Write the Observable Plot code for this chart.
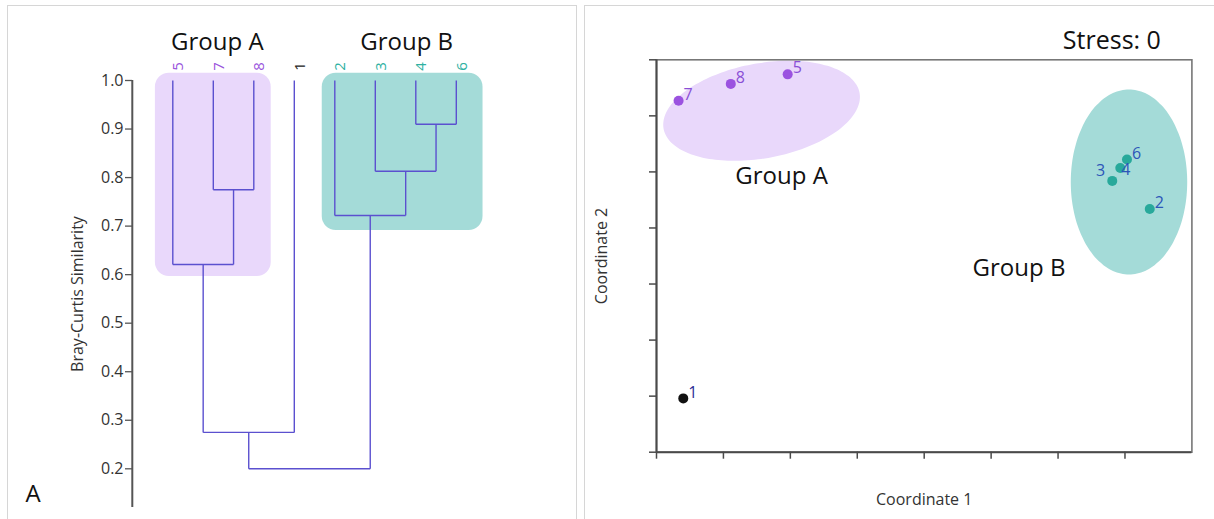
<!DOCTYPE html>
<html>
<head>
<meta charset="utf-8">
<script src="https://cdn.jsdelivr.net/npm/d3@7"></script>
<script src="https://cdn.jsdelivr.net/npm/@observablehq/plot@0.6"></script>
<style>
  html, body { margin: 0; background: #fff; overflow: hidden; }
  #page { position: relative; width: 1214px; height: 519px; overflow: hidden; font-family: "Open Sans", sans-serif; }
  .panel { position: absolute; border: 1.5px solid #d6d6d6; box-sizing: border-box; }
  #panelLeft { left: 7px; top: 5px; width: 570px; height: 560px; }
  #panelRight { left: 584px; top: 5px; width: 700px; height: 560px; }
  .chart { position: absolute; top: 0; }
</style>
</head>
<body>
<div id="page">
  <div class="panel" id="panelLeft"></div>
  <div class="panel" id="panelRight"></div>
  <div class="chart" id="dendro" style="left:0"></div>
  <div class="chart" id="nmds" style="left:580px"></div>
</div>
<script>
// ---- Cluster analysis (UPGMA, Bray-Curtis similarity) ----
// leaves in the order the dendrogram draws them
const leafLabels = ["5", "7", "8", "1", "2", "3", "4", "6"];
const leafGroup  = ["A", "A", "A", "", "B", "B", "B", "B"];

// agglomeration steps: the two nodes joined and the similarity of the join
// (joined clusters are referred to as m1, m2, ... in order of creation)
const joinLeft  = ["4", "7", "3", "2", "5", "m5", "m6"];
const joinRight = ["6", "8", "m1", "m3", "m2", "1", "m4"];
const joinSim   = [0.91, 0.775, 0.813, 0.722, 0.621, 0.275, 0.20];

const simTicks = [0.2, 0.3, 0.4, 0.5, 0.6, 0.7, 0.8, 0.9, 1.0];

// shaded group boxes, in leaf-index units and similarity
const groupNames    = ["Group A", "Group B"];
const groupBoxFrom  = [-0.43, 3.69];
const groupBoxTo    = [2.43, 7.66];
const groupBoxLow   = [0.596, 0.691];
const groupBoxHigh  = [1.015, 1.015];

// ---- Non-metric MDS ordination ----
const sampleIds   = ["1", "2", "3", "4", "5", "6", "7", "8"];
const coord1      = [0.40, 7.37, 6.81, 6.93, 1.96, 7.03, 0.33, 1.11];
const coord2      = [0.96, 4.34, 4.84, 5.07, 6.74, 5.22, 6.27, 6.57];
const sampleGroup = ["", "B", "B", "B", "A", "B", "A", "A"];
const stress = 0;

// group ellipses: centre, semi-axes (axis units) and tilt (degrees)
const ellipseGroup = ["A", "B"];
const ellipseCx    = [1.57, 7.06];
const ellipseCy    = [6.09, 4.82];
const ellipseRx    = [1.50, 0.87];
const ellipseRy    = [0.84, 1.65];
const ellipseTilt  = [14, 0];

const coordTicks1 = [0, 1, 2, 3, 4, 5, 6, 7];
const coordTicks2 = [0, 1, 2, 3, 4, 5, 6, 7];

// ---- colours ----
const boxFill   = {A: "#e9d8fb", B: "#a4dbd8"};
const leafColor = {A: "#9a55dc", B: "#2fb1a2", "": "#222"};
const dotColor  = {A: "#9b52e0", B: "#28a99b", "": "#111"};
const tagColor  = {A: "#8a4fd6", B: "#2c55b8", "": "#2b2b96"};
const linkColor = "#5b50cf";
const font = "Open Sans, sans-serif";

// ---- build the dendrogram elbows ----
const nodeX = new Map(), nodeY = new Map();
leafLabels.forEach((l, i) => { nodeX.set(l, i); nodeY.set(l, 1.0); });
const segments = [];
joinSim.forEach((s, k) => {
  const a = joinLeft[k], b = joinRight[k];
  const xa = nodeX.get(a), xb = nodeX.get(b);
  segments.push({x1: xa, y1: nodeY.get(a), x2: xa, y2: s});
  segments.push({x1: xb, y1: nodeY.get(b), x2: xb, y2: s});
  segments.push({x1: xa, y1: s, x2: xb, y2: s});
  nodeX.set("m" + (k + 1), (xa + xb) / 2);
  nodeY.set("m" + (k + 1), s);
});
const leaves = leafLabels.map((l, i) => ({label: l, i, group: leafGroup[i]}));
const boxes = groupNames.map((name, k) => ({
  name, group: name.slice(-1),
  x1: groupBoxFrom[k], x2: groupBoxTo[k], y1: groupBoxLow[k], y2: groupBoxHigh[k]
}));

const dendro = Plot.plot({
  width: 578, height: 519,
  marginTop: 80, marginBottom: 12, marginLeft: 132, marginRight: 20,
  style: {fontFamily: font, background: "transparent", color: "#333"},
  x: {domain: [0, 7], range: [172.3, 455.8], axis: null},
  y: {domain: [0.2, 1.0], range: [468.3, 80]},
  marks: [
    Plot.rect(boxes, {x1: "x1", x2: "x2", y1: "y1", y2: "y2", fill: d => boxFill[d.group], rx: 14}),
    Plot.ruleX([-1], {stroke: "#555", strokeWidth: 2}),
    Plot.axisY({
      ticks: simTicks, tickFormat: d3.format(".1f"), tickSize: 7, tickPadding: 2,
      fontSize: 16, stroke: "#555", strokeWidth: 1.3,
      label: "Bray-Curtis Similarity", labelAnchor: "center", labelArrow: "none", labelOffset: 61
    }),
    Plot.link(segments, {x1: "x1", y1: "y1", x2: "x2", y2: "y2", stroke: linkColor, strokeWidth: 1.4}),
    Plot.text(leaves, {
      x: "i", text: "label", frameAnchor: "top", dy: -14, rotate: -90,
      fill: d => leafColor[d.group], fontSize: 15
    }),
    Plot.text(boxes, {
      x: d => (d.x1 + d.x2) / 2, text: "name", frameAnchor: "top", dy: -48,
      fontSize: 24, fill: "#111", dx: 4
    }),
    Plot.text(["A"], {frameAnchor: "bottom-left", text: d => d, dx: -107, dy: -6, fontSize: 24, fill: "#111"})
  ]
});
dendro.querySelectorAll("g[aria-label='y-axis label'] text").forEach(t => t.setAttribute("font-size", 16));
document.getElementById("dendro").append(dendro);

// ---- ordination plot ----
const samples = sampleIds.map((id, i) => ({id, c1: coord1[i], c2: coord2[i], group: sampleGroup[i]}));
const outline = [];
ellipseGroup.forEach((g, k) => {
  const phi = ellipseTilt[k] * Math.PI / 180;
  for (let a = 0; a < 360; a += 4) {
    const t = a * Math.PI / 180;
    const ex = ellipseRx[k] * Math.cos(t), ey = ellipseRy[k] * Math.sin(t);
    outline.push({
      group: g,
      x: ellipseCx[k] + ex * Math.cos(phi) - ey * Math.sin(phi),
      y: ellipseCy[k] + ex * Math.sin(phi) + ey * Math.cos(phi)
    });
  }
});
const ellipseCentres = ellipseGroup.map((g, k) => ({group: g, x: ellipseCx[k], y: ellipseCy[k], name: "Group " + g}));

const nmds = Plot.plot({
  width: 634, height: 519,
  marginTop: 59.3, marginBottom: 67.3, marginLeft: 76, marginRight: 22.6,
  style: {fontFamily: font, background: "transparent", color: "#333"},
  x: {domain: [0, 8]},
  y: {domain: [0, 7]},
  marks: [
    ...ellipseGroup.map(g => Plot.line(outline.filter(d => d.group === g), {
      x: "x", y: "y", fill: boxFill[g], stroke: "none", curve: "catmull-rom-closed"
    })),
    Plot.frame({stroke: "#777", strokeWidth: 1.6}),
    Plot.ruleX([0], {stroke: "#4a4a4a", strokeWidth: 2}),
    Plot.ruleY([0], {stroke: "#4a4a4a", strokeWidth: 2}),
    Plot.axisX({
      ticks: coordTicks1, tickFormat: () => "", tickSize: 7, stroke: "#4a4a4a", strokeWidth: 1.5,
      label: "Coordinate 1", labelAnchor: "center", labelArrow: "none", labelOffset: 53, fontSize: 16
    }),
    Plot.axisY({
      ticks: coordTicks2, tickFormat: () => "", tickSize: 7, stroke: "#4a4a4a", strokeWidth: 1.5,
      label: "Coordinate 2", labelAnchor: "center", labelArrow: "none", labelOffset: 61, fontSize: 16
    }),
    Plot.text(ellipseCentres.filter(d => d.group === "A"), {x: "x", y: "y", text: "name", dx: 20, dy: 66, fontSize: 24, fill: "#111"}),
    Plot.text(ellipseCentres.filter(d => d.group === "B"), {x: "x", y: "y", text: "name", dx: -110, dy: 86, fontSize: 24, fill: "#111"}),
    Plot.dot(samples, {x: "c1", y: "c2", r: 5, fill: d => dotColor[d.group], stroke: "none"}),
    Plot.text(samples.filter(d => d.id !== "3" && d.id !== "4"), {
      x: "c1", y: "c2", text: "id", dx: 5, dy: -6, textAnchor: "start", fontSize: 16, fill: d => tagColor[d.group]
    }),
    Plot.text(samples.filter(d => d.id === "3"), {
      x: "c1", y: "c2", text: "id", dx: -7, dy: -10, textAnchor: "end", fontSize: 16, fill: d => tagColor[d.group]
    }),
    Plot.text(samples.filter(d => d.id === "4"), {
      x: "c1", y: "c2", text: "id", dx: 1, dy: 2, textAnchor: "start", fontSize: 16, fill: d => tagColor[d.group]
    }),
    Plot.text([`Stress: ${stress}`], {frameAnchor: "top-right", text: d => d, dx: -31, dy: -29, textAnchor: "end", fontSize: 25, fill: "#111"})
  ]
});
document.getElementById("nmds").append(nmds);
</script>
</body>
</html>
